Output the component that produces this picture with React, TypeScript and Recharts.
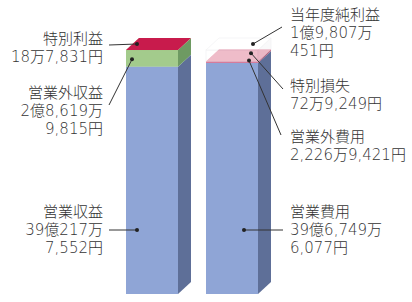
import React from 'react';
import { BarChart, Bar, XAxis, YAxis, LabelList } from 'recharts';

// 収益 (left) / 費用 (right), in yen
const categories = ['収益', '費用'];
const mainValues = [3902177552, 3967496077]; // 営業収益 / 営業費用
const nonOperatingValues = [286199815, 22269421]; // 営業外収益 / 営業外費用
const specialValues = [187831, 729249]; // 特別利益 / 特別損失
const netIncomeValues = [0, 198070451]; // 当年度純利益

const mainLabels = [
  ['営業収益', '39億217万', '7,552円'],
  ['営業費用', '39億6,749万', '6,077円'],
];
const nonOperatingLabels = [
  ['営業外収益', '2億8,619万', '9,815円'],
  ['営業外費用', '2,226万9,421円'],
];
const specialLabels = [
  ['特別利益', '18万7,831円'],
  ['特別損失', '72万9,249円'],
];
const netIncomeLabels = [[], ['当年度純利益', '1億9,807万', '451円']];

const data = categories.map((name, i) => ({
  name,
  main: mainValues[i],
  nonOp: nonOperatingValues[i],
  special: specialValues[i],
  net: netIncomeValues[i],
}));

const DX = 13;
const DY = 12;
const FONT = '"DejaVu Sans", "Noto Sans CJK JP", sans-serif';
const LINE = 17.8;

interface Faces {
  front: string[];
  side: string[];
  top: string[];
  opacity?: number;
  stroke?: string;
}

const makeBox = ({ front, side, top, opacity = 1, stroke = 'none' }: Faces) => (props: any) => {
  const { x, y, width, height, index } = props;
  if (height == null || height <= 0) return <g />;
  const r = x + width;
  const b = y + height;
  return (
    <g opacity={opacity}>
      <rect x={x} y={y} width={width} height={height} fill={front[index]} stroke={stroke} strokeWidth={0.6} />
      <polygon points={`${r},${b} ${r + DX},${b - DY} ${r + DX},${y - DY} ${r},${y}`} fill={side[index]} stroke={stroke} strokeWidth={0.6} />
      <polygon points={`${x},${y} ${x + DX},${y - DY} ${r + DX},${y - DY} ${r},${y}`} fill={top[index]} stroke={stroke} strokeWidth={0.6} />
    </g>
  );
};

// label layout: text position, leader start, dot relative to the segment
interface LabelLayout {
  tx: number;
  ty: number;
  anchor: 'start' | 'end';
  lx: number;
  ly: number;
  dot: (s: { x: number; y: number; width: number; height: number }) => [number, number];
}

const makeLabel = (texts: string[][], layouts: (LabelLayout | null)[]) => (props: any) => {
  const vb = props.viewBox || props;
  const idx = props.index;
  const lines = texts[idx];
  const lay = layouts[idx];
  if (!lay || !lines || lines.length === 0) return null;
  const [dx, dy] = lay.dot({ x: vb.x, y: vb.y, width: vb.width, height: vb.height });
  return (
    <g>
      <line x1={lay.lx} y1={lay.ly} x2={dx} y2={dy} stroke="#333" strokeWidth={1} />
      <circle cx={dx} cy={dy} r={2} fill="#222" />
      {lines.map((t, i) => (
        <text
          key={i}
          x={lay.tx}
          y={lay.ty + i * LINE}
          textAnchor={lay.anchor}
          dominantBaseline="central"
          fontFamily={FONT}
          fontSize={15}
          fontWeight={300}
          fill="#333"
        >
          {t}
        </text>
      ))}
    </g>
  );
};

const mainLayout: LabelLayout[] = [
  { tx: 103, ty: 212, anchor: 'end', lx: 109, ly: 230, dot: (s) => [s.x + 11, 230] },
  { tx: 290, ty: 212, anchor: 'start', lx: 283, ly: 230, dot: (s) => [s.x + 38, 230] },
];
const nonOpLayout: LabelLayout[] = [
  { tx: 103, ty: 93, anchor: 'end', lx: 109, ly: 105, dot: (s) => [s.x + 6, s.y + s.height / 2 + 1] },
  { tx: 290, ty: 137, anchor: 'start', lx: 281, ly: 135, dot: (s) => [s.x + 43, s.y - 1] },
];
const specialLayout: LabelLayout[] = [
  { tx: 103, ty: 39, anchor: 'end', lx: 109, ly: 45, dot: (s) => [s.x + 11, s.y - DY / 2] },
  { tx: 290, ty: 86, anchor: 'start', lx: 283, ly: 89, dot: (s) => [s.x + 45, s.y - DY * 0.7] },
];
const netLayout: (LabelLayout | null)[] = [
  null,
  { tx: 290, ty: 15, anchor: 'start', lx: 282, ly: 27, dot: (s) => [s.x + 47, s.y - DY / 2] },
];

const App = () => {
  return (
    <div style={{ position: 'absolute', left: 0, top: 0, width: 412, height: 302, background: '#fff' }}>
      <BarChart
        width={412}
        height={302}
        data={data}
        margin={{ top: 50, right: 140, bottom: 8, left: 112 }}
        barCategoryGap={0}
      >
        <XAxis dataKey="name" hide />
        <YAxis hide domain={[0, 'dataMax']} />
        <Bar
          dataKey="main"
          stackId="a"
          barSize={52}
          isAnimationActive={false}
          shape={makeBox({ front: ['#8fa5d6', '#8fa5d6'], side: ['#5e6f98', '#5e6f98'], top: ['#a9bbe2', '#a9bbe2'] })}
        >
          <LabelList dataKey="main" content={makeLabel(mainLabels, mainLayout)} />
        </Bar>
        <Bar
          dataKey="nonOp"
          stackId="a"
          barSize={52}
          isAnimationActive={false}
          shape={makeBox({ front: ['#a3cb8c', '#dc7391'], side: ['#6e9a62', '#b25a74'], top: ['#bcdca8', '#e88aa4'] })}
        >
          <LabelList dataKey="nonOp" content={makeLabel(nonOperatingLabels, nonOpLayout)} />
        </Bar>
        <Bar
          dataKey="special"
          stackId="a"
          barSize={52}
          isAnimationActive={false}
          shape={makeBox({ front: ['#c81b4c', '#c81b4c'], side: ['#9a1238', '#c81b4c'], top: ['#c81b4c', '#e07893'] })}
        >
          <LabelList dataKey="special" content={makeLabel(specialLabels, specialLayout)} />
        </Bar>
        <Bar
          dataKey="net"
          stackId="a"
          barSize={52}
          isAnimationActive={false}
          shape={makeBox({
            front: ['#ffffff', '#ffffff'],
            side: ['#f4f4f6', '#f4f4f6'],
            top: ['#ffffff', '#ffffff'],
            opacity: 0.5,
            stroke: '#e4e4e8',
          })}
        >
          <LabelList dataKey="net" content={makeLabel(netIncomeLabels, netLayout)} />
        </Bar>
      </BarChart>
    </div>
  );
};

export default App;
